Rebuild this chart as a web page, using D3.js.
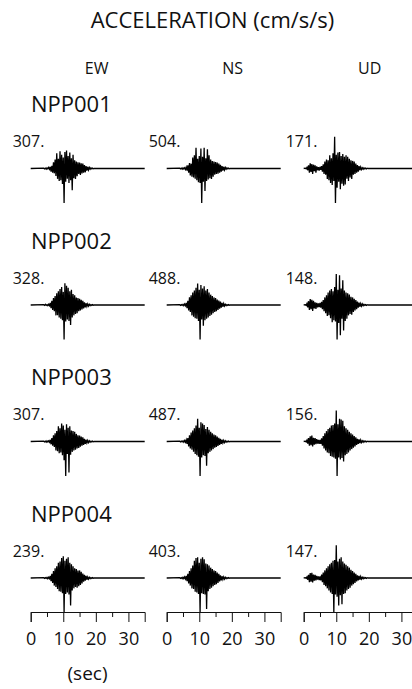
<!DOCTYPE html>
<html>
<head>
<meta charset="utf-8">
<script src="https://cdn.jsdelivr.net/npm/d3@7"></script>
<style>
body { margin: 0; background: #fff; }
text { font-family: "Open Sans", sans-serif; fill: #111; }
</style>
</head>
<body>
<script>
// stations, components and peak amplitudes (cm/s/s)
var stations = ['NPP001', 'NPP002', 'NPP003', 'NPP004'];
var components = ['EW', 'NS', 'UD'];
var peaks001 = [307, 504, 171];
var peaks002 = [328, 488, 148];
var peaks003 = [307, 487, 156];
var peaks004 = [239, 403, 147];
var xTicks = [0, 10, 20, 30];
var minorTicks = [5, 15, 25];
var duration = 35;

// samples every 0.25 s, in % of the peak; horizontal traces start at 4 s, UD at 0.5 s
var dt = 0.25;
var startH = 4, startUD = 0.5;

var npp001EW = [1,-1,1,-2,2,-1,3,-2, 5,-9,8,-12, 18,-14,26,-22, 44,-30,28,-36, 50,-34,40,-45,
  32,-100,48,-38, 52,-30,36,-42, 46,-34,30,-63, 40,-28,24,-30, 20,-22,18,-16, 17,-19,15,-14,
  14,-12,10,-11, 7,-6,5,-4, 3,-2,2,-1, 1,-1,0,0];
var npp001NS = [1,-1,1,-2,2,-1,2,-3, 4,-6,9,-12, 16,-20,14,-24, 32,-26,38,-30, 60,-34,28,-40,
  36,-42,58,-100, 34,-38,60,-65, 30,-36,56,-32, 38,-28,26,-30, 22,-24,20,-18, 19,-16,17,-15,
  14,-12,11,-9, 7,-6,5,-4, 3,-2,2,-1, 1,-1,0,0];
var npp001UD = [1,-1, 3,-5,9,-12, 15,-10,13,-16, 11,-8,9,-12, 6,-5,4,-6, 5,-4,7,-9,
  12,-16,20,-18, 26,-30,24,-34, 38,-42,30,-48, 44,-36,92,-100, 40,-56,46,-38, 48,-60,36,-44,
  42,-50,34,-46, 38,-30,34,-36, 28,-26,24,-30, 22,-18,20,-16, 14,-12,10,-9, 7,-5,4,-3,
  2,-2,2,-1, 1,-1,1,0];

var npp002EW = [1,-1,2,-1,1,-2,2,-2, 6,-9,12,-14, 20,-18,26,-30, 34,-30,40,-36, 46,-40,52,-44,
  38,-100,63,-48, 56,-42,50,-46, 40,-58,44,-36, 32,-30,28,-26, 22,-24,20,-18, 18,-16,15,-13,
  12,-10,8,-7, 5,-4,3,-3, 2,-2,1,-1, 1,-1,0,0];
var npp002NS = [1,-1,1,-1,2,-2,3,-2, 6,-9,12,-16, 22,-20,28,-30, 36,-34,42,-38, 50,-40,62,-46,
  44,-100,58,-42, 48,-60,54,-44, 42,-40,46,-36, 36,-32,30,-28, 26,-24,22,-20, 20,-18,16,-14,
  13,-11,10,-8, 6,-5,4,-3, 2,-2,1,-1, 1,-1,0,0];
var npp002UD = [1,-1, 4,-7,11,-14, 17,-12,15,-17, 12,-10,8,-11, 6,-7,5,-6, 6,-8,9,-12,
  14,-18,22,-24, 28,-32,36,-30, 42,-38,46,-50, 40,-44,52,-48, 90,-100,44,-52, 86,-88,48,-40,
  72,-74,42,-46, 36,-40,34,-30, 30,-26,24,-28, 22,-20,18,-16, 14,-12,10,-8, 7,-5,4,-3,
  3,-2,2,-1, 1,-1,1,0];

var npp003EW = [1,-1,1,-2,2,-1,2,-2, 5,-8,10,-12, 18,-16,24,-26, 30,-28,44,-34, 38,-32,52,-40,
  46,-54,34,-100, 50,-36,40,-90, 44,-38,32,-30, 30,-26,28,-24, 22,-20,18,-19, 17,-15,14,-12,
  12,-10,8,-7, 5,-4,3,-3, 2,-2,1,-1, 1,-1,0,0];
var npp003NS = [1,-1,1,-1,2,-2,3,-2, 5,-7,10,-14, 18,-20,26,-24, 32,-30,38,-36, 46,-40,66,-44,
  40,-100,56,-46, 52,-40,48,-42, 36,-70,42,-34, 34,-30,28,-26, 24,-22,20,-18, 18,-16,14,-13,
  11,-10,8,-7, 5,-4,3,-3, 2,-2,1,-1, 1,-1,0,0];
var npp003UD = [1,-1, 4,-6,10,-12, 15,-11,17,-14, 11,-9,10,-8, 7,-6,5,-7, 5,-7,9,-12,
  16,-20,24,-26, 30,-32,36,-34, 40,-42,46,-44, 48,-46,52,-50, 90,-100,50,-46, 66,-52,64,-48,
  60,-58,44,-40, 38,-36,34,-32, 28,-26,24,-22, 20,-18,16,-14, 12,-10,8,-7, 6,-5,4,-3,
  2,-2,2,-1, 1,-1,1,0];

var npp004EW = [1,-1,1,-1,2,-2,2,-2, 6,-9,12,-14, 20,-22,28,-26, 34,-32,44,-38, 48,-40,58,-44,
  63,-100,50,-46, 56,-42,60,-48, 44,-80,40,-36, 34,-30,28,-26, 26,-28,22,-24, 22,-20,18,-16,
  13,-11,9,-8, 6,-5,3,-3, 2,-2,1,-1, 1,-1,0,0];
var npp004NS = [1,-1,1,-2,2,-2,3,-3, 6,-9,12,-16, 20,-22,28,-30, 36,-32,50,-40, 58,-42,60,-46,
  44,-100,56,-44, 60,-46,54,-48, 42,-90,40,-38, 36,-32,30,-28, 26,-24,22,-20, 20,-18,16,-14,
  12,-10,8,-7, 5,-4,3,-3, 2,-2,1,-1, 1,-1,0,0];
var npp004UD = [1,-1, 3,-5,9,-12, 14,-11,15,-13, 10,-8,9,-7, 6,-5,5,-6, 5,-7,10,-12,
  16,-20,22,-24, 28,-30,34,-36, 40,-42,44,-46, 50,-100,52,-48, 95,-54,48,-80, 56,-50,60,-76,
  48,-46,42,-44, 38,-36,34,-32, 30,-28,24,-22, 20,-18,16,-14, 12,-10,8,-7, 6,-5,4,-3,
  2,-2,2,-1, 1,-1,1,0];

var traces = [
  [npp001EW, npp001NS, npp001UD],
  [npp002EW, npp002NS, npp002UD],
  [npp003EW, npp003NS, npp003UD],
  [npp004EW, npp004NS, npp004UD]
];
var peaks = [peaks001, peaks002, peaks003, peaks004];

// layout
var W = 412, H = 689;
var colX = [30.7, 166.7, 303.7];
var rowY = [168.5, 305, 441.5, 578];
var axisY = 612;

var svg = d3.select('body').append('svg')
  .attr('width', W)
  .attr('height', H);

var x = d3.scaleLinear().domain([0, duration]).range([0, 114]);
var y = d3.scaleLinear().domain([-100, 100]).range([34.5, -34.5]);

var line = d3.line()
  .x(function(d) { return x(d[0]); })
  .y(function(d) { return y(d[1]); });

// titles
svg.append('text')
  .attr('x', 212.5).attr('y', 28)
  .attr('text-anchor', 'middle')
  .style('font-size', '22px')
  .text('ACCELERATION (cm/s/s)');

components.forEach(function(c, j) {
  svg.append('text')
    .attr('x', colX[j] + 66).attr('y', 74)
    .attr('text-anchor', 'middle')
    .style('font-size', '16px')
    .text(c);
});

stations.forEach(function(s, i) {
  svg.append('text')
    .attr('x', 31).attr('y', rowY[i] - 56.5)
    .style('font-size', '22px')
    .text(s);

  components.forEach(function(c, j) {
    var t0 = c == 'UD' ? startUD : startH;
    var pts = [[0, 0]];
    traces[i][j].forEach(function(v, k) {
      pts.push([t0 + k * dt, v]);
    });
    pts.push([duration, 0]);

    var g = svg.append('g')
      .attr('transform', 'translate(' + colX[j] + ',' + rowY[i] + ')');

    g.append('path')
      .datum(pts)
      .attr('d', line)
      .attr('fill', 'none')
      .attr('stroke', '#000')
      .attr('stroke-width', 1.3)
      .attr('stroke-linejoin', 'miter');

    svg.append('text')
      .attr('x', colX[j] - 18).attr('y', rowY[i] - 21.5)
      .style('font-size', '16px')
      .text(peaks[i][j] + '.');
  });
});

// time axes
colX.forEach(function(cx) {
  var g = svg.append('g')
    .attr('transform', 'translate(' + cx + ',' + axisY + ')');

  g.call(d3.axisBottom(x).tickValues(xTicks).tickSize(10).tickSizeOuter(10).tickPadding(10))
    .call(function(a) {
      a.selectAll('text').style('font-size', '18px').style('font-family', '"Open Sans", sans-serif').attr('fill', '#111');
      a.selectAll('line, path').attr('stroke', '#111');
    });

  g.append('g')
    .call(d3.axisBottom(x).tickValues(minorTicks).tickSize(5).tickSizeOuter(0).tickFormat(''))
    .call(function(a) {
      a.select('.domain').remove();
      a.selectAll('line').attr('stroke', '#111');
    });
});

svg.append('text')
  .attr('x', 87.5).attr('y', 680)
  .attr('text-anchor', 'middle')
  .style('font-size', '19px')
  .text('(sec)');
</script>
</body>
</html>
